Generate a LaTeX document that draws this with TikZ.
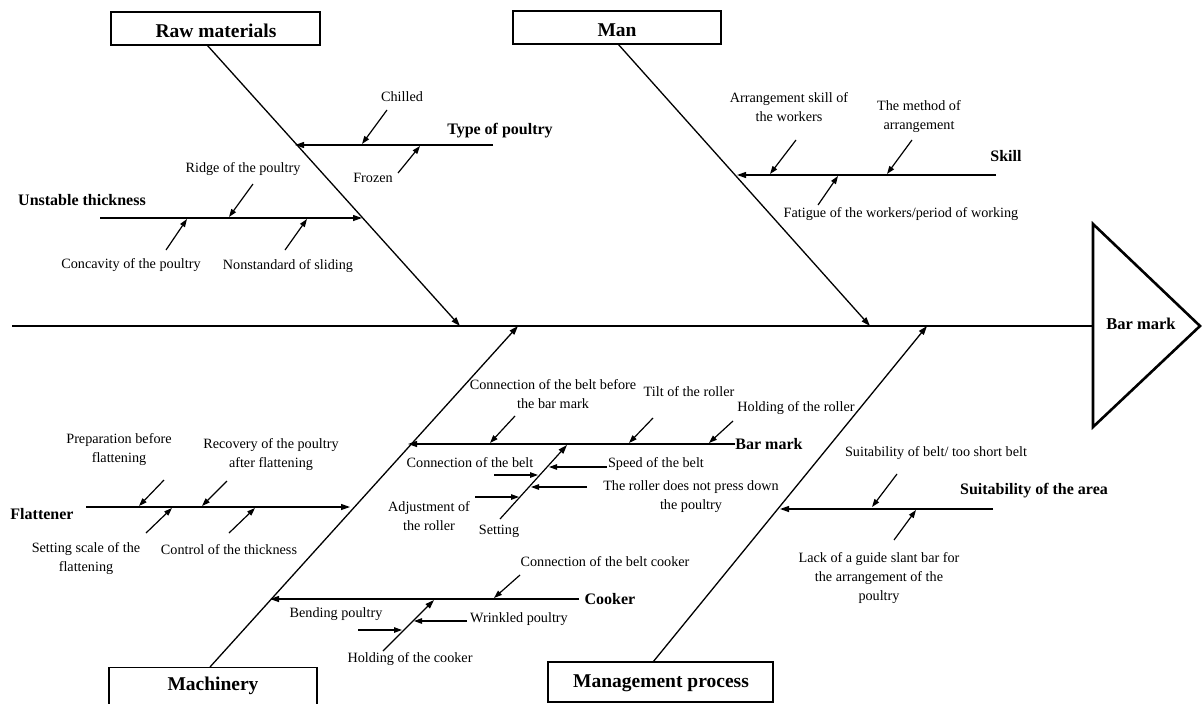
\documentclass[tikz,border=0pt]{standalone}
\usepackage{fontspec}
\setmainfont{Liberation Serif}
\usepackage{tikz}
\usetikzlibrary{arrows.meta, positioning, calc}

\begin{document}
\begin{tikzpicture}[x=1pt, y=-1pt,
    bone/.style={line width=1.3pt, -{Triangle[length=9pt,width=6pt]}},
    cause/.style={line width=1.2pt, -{Triangle[length=8pt,width=5.5pt]}},
    lbl/.style={font=\fontsize{14.2}{19}\selectfont, align=center, inner sep=0pt},
    hdr/.style={font=\fontsize{16}{19}\bfseries, inner sep=0pt},
    catbox/.style={draw, line width=1.2pt, inner sep=0pt},
    cattext/.style={font=\fontsize{19.5}{22}\bfseries, inner sep=0pt}]
\useasboundingbox (0,0) rectangle (1202,704);

% category boxes
\node[catbox, minimum width=209pt, minimum height=33pt] (raw) at (215.5,28.5) {};
\node[catbox, minimum width=208pt, minimum height=33pt] (man) at (617,27.5) {};
\node[catbox, minimum width=208pt, minimum height=50pt, anchor=north] (mach) at (213,667) {};
\node[catbox, minimum width=225pt, minimum height=40pt] (mgmt) at (660.5,682) {};
\node[cattext] (rawt) at (216,31) {Raw materials};
\node[cattext] (mant) at (617,30) {Man};
\node[cattext] (macht) at (213,686) {Machinery};
\node[cattext] (mgmtt) at (661,683) {Management process};

% head
\coordinate (tri1) at (1093,224);
\coordinate (tri2) at (1200,326);
\coordinate (tri3) at (1093,427);
\draw[line width=2.6pt, line join=miter] (tri1) -- (tri2) -- (tri3) -- cycle;
\node[hdr, font=\fontsize{16.5}{19}\bfseries] (effect) at (1141,324) {Bar mark};

% spine
\coordinate (tail) at (12,326);
\coordinate (mouth) at (1093,326);
\draw[line width=2.2pt] (tail) -- (mouth);

% main bones
\foreach \n/\sx/\sy/\ex/\ey in {
    raw/207/45/460/326, man/618/44/870/326,
    mach/210/667/518/326, mgmt/653/662/927/326}{
    \coordinate (\n s) at (\sx,\sy);
    \coordinate (\n e) at (\ex,\ey);
    \draw[bone] (\n s) -- (\n e);
}

% branches
\foreach \n/\sx/\sy/\ex/\ey in {
    type/493/145/295/145, unst/100/218/362/218,
    skill/996/175/737/175, barm/735/444/408/444,
    flat/86/507/350/507, cook/579/599/270/599,
    area/993/509/780/509,
    barsub/500/519/567/445, cooksub/383/651/434/600}{
    \coordinate (\n s) at (\sx,\sy);
    \coordinate (\n e) at (\ex,\ey);
    \draw[bone, line width=1.2pt] (\n s) -- (\n e);
}

% causes
\foreach \n/\sx/\sy/\ex/\ey in {
    chil/387/110/362/144, froz/398/173/420/146,
    ridge/253/184/229/217, conc/166/250/187/219, nons/285/250/307/219,
    arsk/796/140/770/174, meth/912/140/887/174, fati/818/205/838/176,
    cobe/515/416/490/443, tilt/653/418/629/443, hold/733/421/709/443,
    prep/164/480/139/506, reco/227/481/202/506,
    sets/146/533/172/508, cont/229/533/255/508,
    cobc/520/575/494/598,
    suit/897/474/872/507, lack/894/540/916/510,
    cobt/494/475/538/475, adju/475/497/519/497,
    spee/607/467/549/467, roll/587/487/531/487,
    bend/358/630/402/630, wrin/467/621/414/621}{
    \coordinate (\n s) at (\sx,\sy);
    \coordinate (\n e) at (\ex,\ey);
    \draw[cause] (\n s) -- (\n e);
}

% branch titles
\node[hdr] (typet) at (500,131) {Type of poultry};
\node[hdr] (unstt) at (82,200) {Unstable thickness};
\node[hdr] (skillt) at (1006,156) {Skill};
\node[hdr] (barmt) at (769,444) {Bar mark};
\node[hdr] (flatt) at (42,514) {Flattener};
\node[hdr] (cookt) at (610,599) {Cooker};
\node[hdr] (areat) at (1034,491) {Suitability of the area};

% cause labels
\node[lbl] (chilt) at (402,97) {Chilled};
\node[lbl] (frozt) at (373,178) {Frozen};
\node[lbl] (ridget) at (243,169) {Ridge of the poultry};
\node[lbl] (conct) at (131,265) {Concavity of the poultry};
\node[lbl] (nonst) at (288,266) {Nonstandard of sliding};
\node[lbl] (arskt) at (789,107) {Arrangement skill of\\the workers};
\node[lbl] (metht) at (919,117) {The method of\\arrangement};
\node[lbl] (fatit) at (901,214) {Fatigue of the workers/period of working};
\node[lbl] (cobet) at (553,394) {Connection of the belt before\\the bar mark};
\node[lbl] (tiltt) at (689,392) {Tilt of the roller};
\node[lbl] (holdt) at (796,408) {Holding of the roller};
\node[lbl] (cobtt) at (470,463) {Connection of the belt};
\node[lbl] (speet) at (656,464) {Speed of the belt};
\node[lbl] (rollt) at (691,497) {The roller does not press down\\the poultry};
\node[lbl] (adjut) at (429,516) {Adjustment of\\the roller};
\node[lbl] (settt) at (499,531) {Setting};
\node[lbl] (prept) at (119,450) {Preparation before\\flattening};
\node[lbl] (recot) at (271,455) {Recovery of the poultry\\after flattening};
\node[lbl] (setst) at (86,559) {Setting scale of the\\flattening};
\node[lbl] (contt) at (229,550) {Control of the thickness};
\node[lbl] (cobct) at (605,562) {Connection of the belt cooker};
\node[lbl] (bendt) at (336,614) {Bending poultry};
\node[lbl] (wrint) at (519,619) {Wrinkled poultry};
\node[lbl] (holct) at (410,659) {Holding of the cooker};
\node[lbl] (suitt) at (936,453) {Suitability of belt/ too short belt};
\node[lbl] (lackt) at (879,578) {Lack of a guide slant bar for\\the arrangement of the\\poultry};

\end{tikzpicture}
\end{document}
